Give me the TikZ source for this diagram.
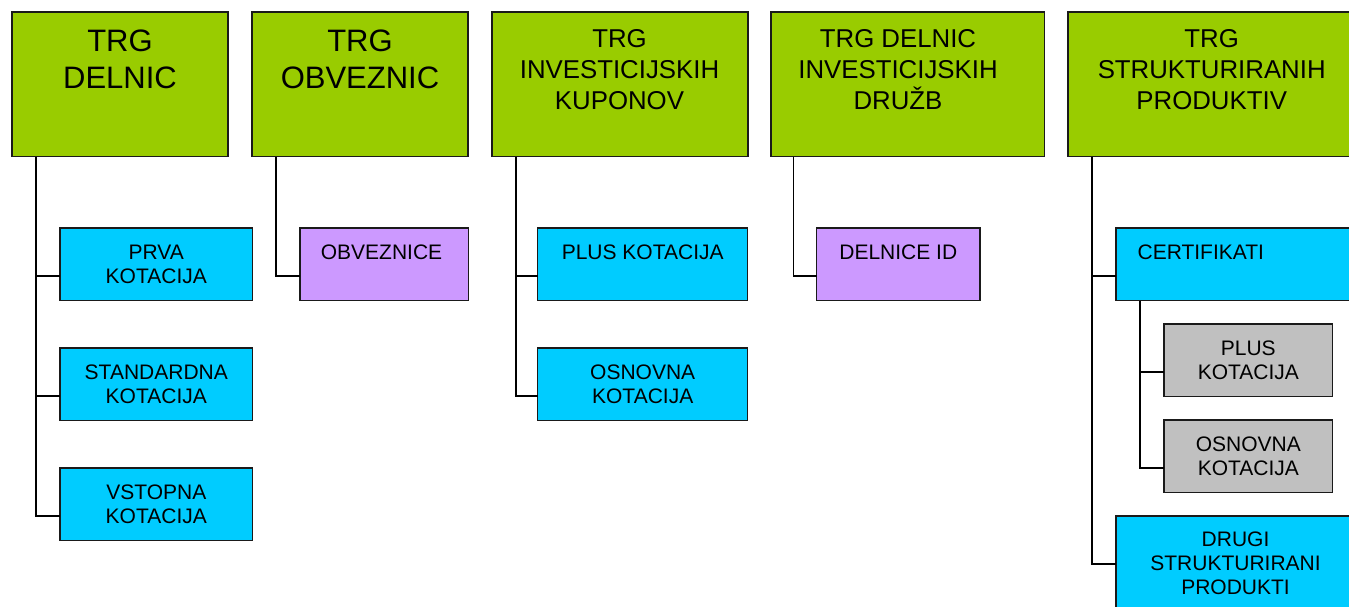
\documentclass[tikz,border=0pt]{standalone}
\usepackage{fontspec}
\setmainfont{Liberation Sans}
\usetikzlibrary{calc}
\definecolor{mktgreen}{HTML}{99CC00}
\definecolor{mktcyan}{HTML}{00CCFF}
\definecolor{mktlilac}{HTML}{CC99FF}
\definecolor{mktgray}{HTML}{C0C0C0}
\definecolor{edge}{HTML}{1A1A1A}
\newcommand\fbig{\fontsize{31}{37}\selectfont}
\newcommand\fmid{\fontsize{25.8}{30.7}\selectfont}
\newcommand\fsmall{\fontsize{21}{24}\selectfont}
\newcommand\boxtext[1]{\parbox[t]{320pt}{\centering #1}}
\tikzset{
  box/.style={draw=edge, line width=1.5pt, anchor=north west, inner sep=0pt, outer sep=0pt},
  market/.style={box, fill=mktgreen, minimum height=144.5pt},
  segment/.style={box, fill=mktcyan, minimum height=72.5pt},
  listing/.style={box, fill=mktlilac, minimum height=72.5pt},
  tier/.style={box, fill=mktgray, minimum height=72.5pt},
  lbl/.style={anchor=base, inner sep=0pt, outer sep=0pt},
  link/.style={draw=black, line width=1.6pt}
}
\begin{document}
\begin{tikzpicture}[x=1pt, y=-1pt]
\useasboundingbox (0,0) rectangle (1349,607);
\clip (0,0) rectangle (1349,607);

% market boxes
\node[market, minimum width=216pt]   (g1) at (12,12)    {};
\node[market, minimum width=216pt]   (g2) at (252,12)   {};
\node[market, minimum width=256pt]   (g3) at (492,12)   {};
\node[market, minimum width=273.5pt] (g4) at (771,12)   {};
\node[market, minimum width=290pt]   (g5) at (1068,12)  {};

\node[lbl, font=\fbig] (tg1) at (120,52)    {\boxtext{TRG\\DELNIC}};
\node[lbl, font=\fbig] (tg2) at (360,52)    {\boxtext{TRG\\OBVEZNIC}};
\node[lbl, font=\fmid] (tg3) at (619.5,47.7) {\boxtext{TRG\\INVESTICIJSKIH\\KUPONOV}};
\node[lbl, font=\fmid] (tg4) at (898,47.7)  {\boxtext{TRG DELNIC\\INVESTICIJSKIH\\DRUŽB}};
\node[lbl, font=\fmid] (tg5) at (1211.7,47.7) {\boxtext{TRG\\STRUKTURIRANIH\\PRODUKTIV}};

% segment boxes
\node[segment, minimum width=192.7pt] (c1) at (60,228)    {};
\node[segment, minimum width=192.7pt] (c2) at (60,348)    {};
\node[segment, minimum width=192.7pt] (c3) at (60,468)    {};
\node[listing, minimum width=168.3pt] (o1) at (300,228)   {};
\node[segment, minimum width=210pt]   (p1) at (537.7,228) {};
\node[segment, minimum width=210pt]   (p2) at (537.7,348) {};
\node[listing, minimum width=163.3pt] (d1) at (816.7,228) {};
\node[segment, minimum width=250pt]   (s1) at (1116,228)  {};
\node[tier,    minimum width=168.7pt] (s2) at (1164,324)  {};
\node[tier,    minimum width=168.7pt] (s3) at (1164,420)  {};
\node[segment, minimum width=250pt, minimum height=110pt] (s4) at (1116,516) {};

\node[lbl, font=\fsmall] (tc1) at (156.3,259) {\boxtext{PRVA\\KOTACIJA}};
\node[lbl, font=\fsmall] (tc2) at (156.3,379) {\boxtext{STANDARDNA\\KOTACIJA}};
\node[lbl, font=\fsmall] (tc3) at (156.3,499) {\boxtext{VSTOPNA\\KOTACIJA}};
\node[lbl, font=\fsmall] (to1) at (381.5,259) {\boxtext{OBVEZNICE}};
\node[lbl, font=\fsmall] (tp1) at (642.7,259) {\boxtext{PLUS KOTACIJA}};
\node[lbl, font=\fsmall] (tp2) at (642.7,379) {\boxtext{OSNOVNA\\KOTACIJA}};
\node[lbl, font=\fsmall] (td1) at (898.3,259) {\boxtext{DELNICE ID}};
\node[lbl, font=\fsmall] (ts1) at (1200.8,259) {\boxtext{CERTIFIKATI}};
\node[lbl, font=\fsmall] (ts2) at (1248.3,355) {\boxtext{PLUS\\KOTACIJA}};
\node[lbl, font=\fsmall] (ts3) at (1248.3,451) {\boxtext{OSNOVNA\\KOTACIJA}};
\node[lbl, font=\fsmall] (ts4) at (1235.5,546.7) {\boxtext{DRUGI\\STRUKTURIRANI\\PRODUKTI}};

% connectors
\foreach \up/\down in {g1/c1, g1/c2, g1/c3, g2/o1, g3/p1, g3/p2, g5/s1, g5/s4, s1/s2, s1/s3}
  \draw[link] ($(\up.south west)+(24,0)$) |- ($(\down.north west)+(0,48)$);
\draw[link] ($(g4.south west)+(22.5,0)$) |- ($(d1.north west)+(0,48)$);
\end{tikzpicture}
\end{document}
